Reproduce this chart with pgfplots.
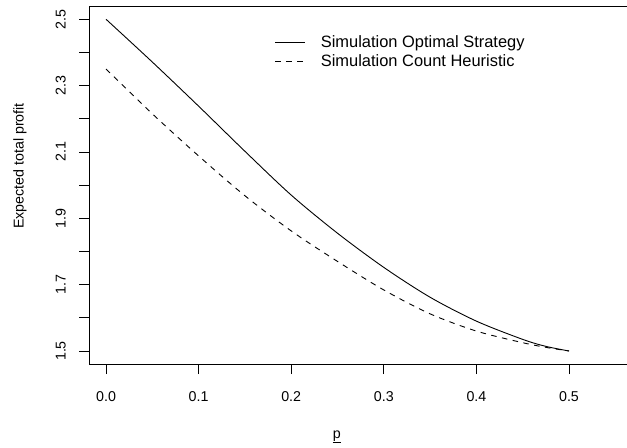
\documentclass[border=0pt]{standalone}
\usepackage{fontspec}
\setmainfont{Liberation Sans}
\usepackage{pgfplots}
\usepackage{pgfplotstable}
\pgfplotsset{compat=1.18}

% expected total profit against p
\pgfplotstableread{
p     opt    heur
0.000 2.500  2.350
0.050 2.371  2.215
0.100 2.238  2.088
0.150 2.102  1.968
0.200 1.970  1.862
0.250 1.855  1.770
0.300 1.752  1.684
0.350 1.662  1.612
0.400 1.590  1.560
0.450 1.535  1.525
0.475 1.514  1.511
0.500 1.500  1.500
}\profit

\begin{document}
\begin{tikzpicture}
\begin{axis}[
    at={(89bp,84bp)}, anchor=south west,
    scale only axis, width=540bp, height=358bp,
    xmin=-0.0184, xmax=0.5648, ymin=1.4608, ymax=2.540,
    axis line style={line width=0.8bp},
    tick style={line width=0.8bp, black},
    tick align=outside, major tick length=10bp,
    xtick pos=left, ytick pos=left,
    xtick={0,0.1,0.2,0.3,0.4,0.5},
    xticklabels={0.0,0.1,0.2,0.3,0.4,0.5},
    ytick={1.5,1.6,1.7,1.8,1.9,2.0,2.1,2.2,2.3,2.4,2.5},
    yticklabels={1.5,,1.7,,1.9,,2.1,,2.3,,2.5},
    ticklabel style={font=\fontsize{14.3}{16}\selectfont},
    xticklabel style={anchor=base, yshift=-27.7bp},
    yticklabel style={xshift=-13.5bp, rotate=90, anchor=base},
    xlabel={\underline{p}},
    xlabel style={at={(rel axis cs:0.459,0)}, anchor=base, yshift=-74bp,
        font=\fontsize{14.3}{16}\selectfont},
    ylabel={Expected total profit},
    ylabel style={at={(rel axis cs:-0.1278,0.553)}, anchor=center,
        font=\fontsize{14.3}{16}\selectfont},
    legend cell align=left,
    legend image code/.code={\draw[#1] (0bp,0bp) -- (30bp,0bp);},
    legend style={draw=none, fill=none, inner sep=0pt,
        at={(rel axis cs:0.344,0.9176)}, anchor=north west,
        font=\fontsize{16.5}{18}\selectfont, row sep=5.5bp,
        nodes={inner sep=0pt},
        /tikz/every odd column/.style={column sep=15bp}},
]
\addplot[black, line width=0.9bp, smooth] table[x=p, y=opt] {\profit};
\addlegendentry{Simulation Optimal Strategy}
\addplot[black, line width=0.9bp, smooth, dash pattern=on 5.5bp off 5.5bp] table[x=p, y=heur] {\profit};
\addlegendentry{Simulation Count Heuristic}
\end{axis}
\pgfresetboundingbox
\useasboundingbox (0,0) rectangle (627bp,448bp);
\end{tikzpicture}
\end{document}
